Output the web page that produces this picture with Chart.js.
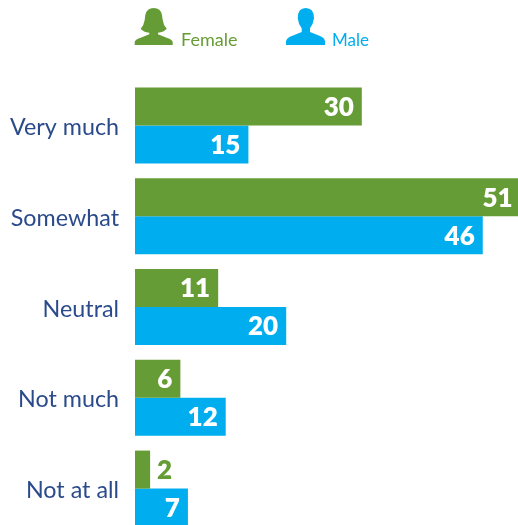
<!DOCTYPE html>
<html>
<head>
<meta charset="utf-8">
<title>Female and male responses</title>
<style>
  html, body { margin: 0; padding: 0; background: #fff; overflow: hidden; }
  .wrap { position: relative; width: 518px; height: 534px; }
</style>
<script src="https://cdn.jsdelivr.net/npm/chart.js@4"></script>
</head>
<body>
<div class="wrap"><canvas id="myChart"></canvas></div>
<script>
const categories = ["Very much", "Somewhat", "Neutral", "Not much", "Not at all"];
const femaleValues = [30, 51, 11, 6, 2];
const maleValues = [15, 46, 20, 12, 7];

const GREEN = "#669c35";
const BLUE = "#00aeef";
const NAVY = "#2b4a8b";
const FONT = "Lato, sans-serif";

// person icons, coordinates in px on the canvas
const femaleIcon = new Path2D("M134.7 45 L134.7 42 Q135.3 39.3 140 38 L149.3 34.3 L149.3 32.7 Q143.3 32 140.7 28.7 Q144 25 144.7 20 L145.3 15 Q146.7 8 153.7 8 Q160.7 8 162 15 L162.7 20 Q163.3 25 166.7 28.7 Q164 32 158 32.7 L158 34.3 L167.3 38 Q172 39.3 172.7 42 L172.7 45 Z");
const maleIcon = new Path2D("M286 45 L286 41.3 Q286.7 38 291.7 36 L301.7 32 L301.7 28.3 Q298.3 24 297.7 18.3 Q297.7 8 305.7 8 Q314 8 314 18.3 Q313.3 24 310 28.3 L310 32 L320 36 Q324.7 38 325 41.3 L325 45 Z");

// legend row at the top
const legendRow = {
  id: "legendRow",
  afterDraw(chart) {
    const ctx = chart.ctx;
    ctx.save();
    ctx.fillStyle = GREEN;
    ctx.fill(femaleIcon);
    ctx.fillStyle = BLUE;
    ctx.fill(maleIcon);
    ctx.textAlign = "left";
    ctx.textBaseline = "alphabetic";
    ctx.font = "400 18px " + FONT;
    ctx.fillStyle = GREEN;
    ctx.fillText("Female", 181, 46);
    ctx.font = "400 17px " + FONT;
    ctx.fillStyle = BLUE;
    ctx.fillText("Male", 332, 46);
    ctx.restore();
  }
};

// value labels inside the bar end, or beside the bar when it is too short
const valueLabels = {
  id: "valueLabels",
  afterDatasetsDraw(chart) {
    const ctx = chart.ctx;
    ctx.save();
    ctx.font = "800 26px " + FONT;
    ctx.textBaseline = "middle";
    chart.data.datasets.forEach((ds, d) => {
      chart.getDatasetMeta(d).data.forEach((bar, i) => {
        const v = ds.data[i];
        if (v < 3) {
          ctx.textAlign = "left";
          ctx.fillStyle = ds.backgroundColor;
          ctx.fillText(v, bar.x + 7, bar.y + 1);
        } else {
          ctx.textAlign = "right";
          ctx.fillStyle = "#fff";
          ctx.fillText(v, bar.x - 8, bar.y + 1);
        }
      });
    });
    ctx.restore();
  }
};

new Chart(document.getElementById("myChart"), {
  type: "bar",
  data: {
    labels: categories,
    datasets: [
      { label: "Female", data: femaleValues, backgroundColor: GREEN },
      { label: "Male", data: maleValues, backgroundColor: BLUE }
    ]
  },
  options: {
    indexAxis: "y",
    responsive: true,
    maintainAspectRatio: false,
    animation: false,
    layout: { padding: { top: 80 } },
    barPercentage: 1,
    categoryPercentage: 0.8375,
    plugins: {
      legend: { display: false },
      tooltip: { enabled: false }
    },
    scales: {
      // the longest bar runs right up to the canvas edge
      x: { display: false, min: 0, max: 50.66 },
      y: {
        afterFit(axis) {
          // fixed gutter, and no extra room for the last label's height
          axis.width = 135;
          axis.paddingTop = 0;
          axis.paddingBottom = 0;
        },
        grid: { display: false, drawTicks: false },
        border: { display: false },
        ticks: {
          color: NAVY,
          padding: 16,
          labelOffset: 2,
          font: { family: FONT, size: 23.3 }
        }
      }
    }
  },
  plugins: [legendRow, valueLabels]
});
</script>
</body>
</html>
